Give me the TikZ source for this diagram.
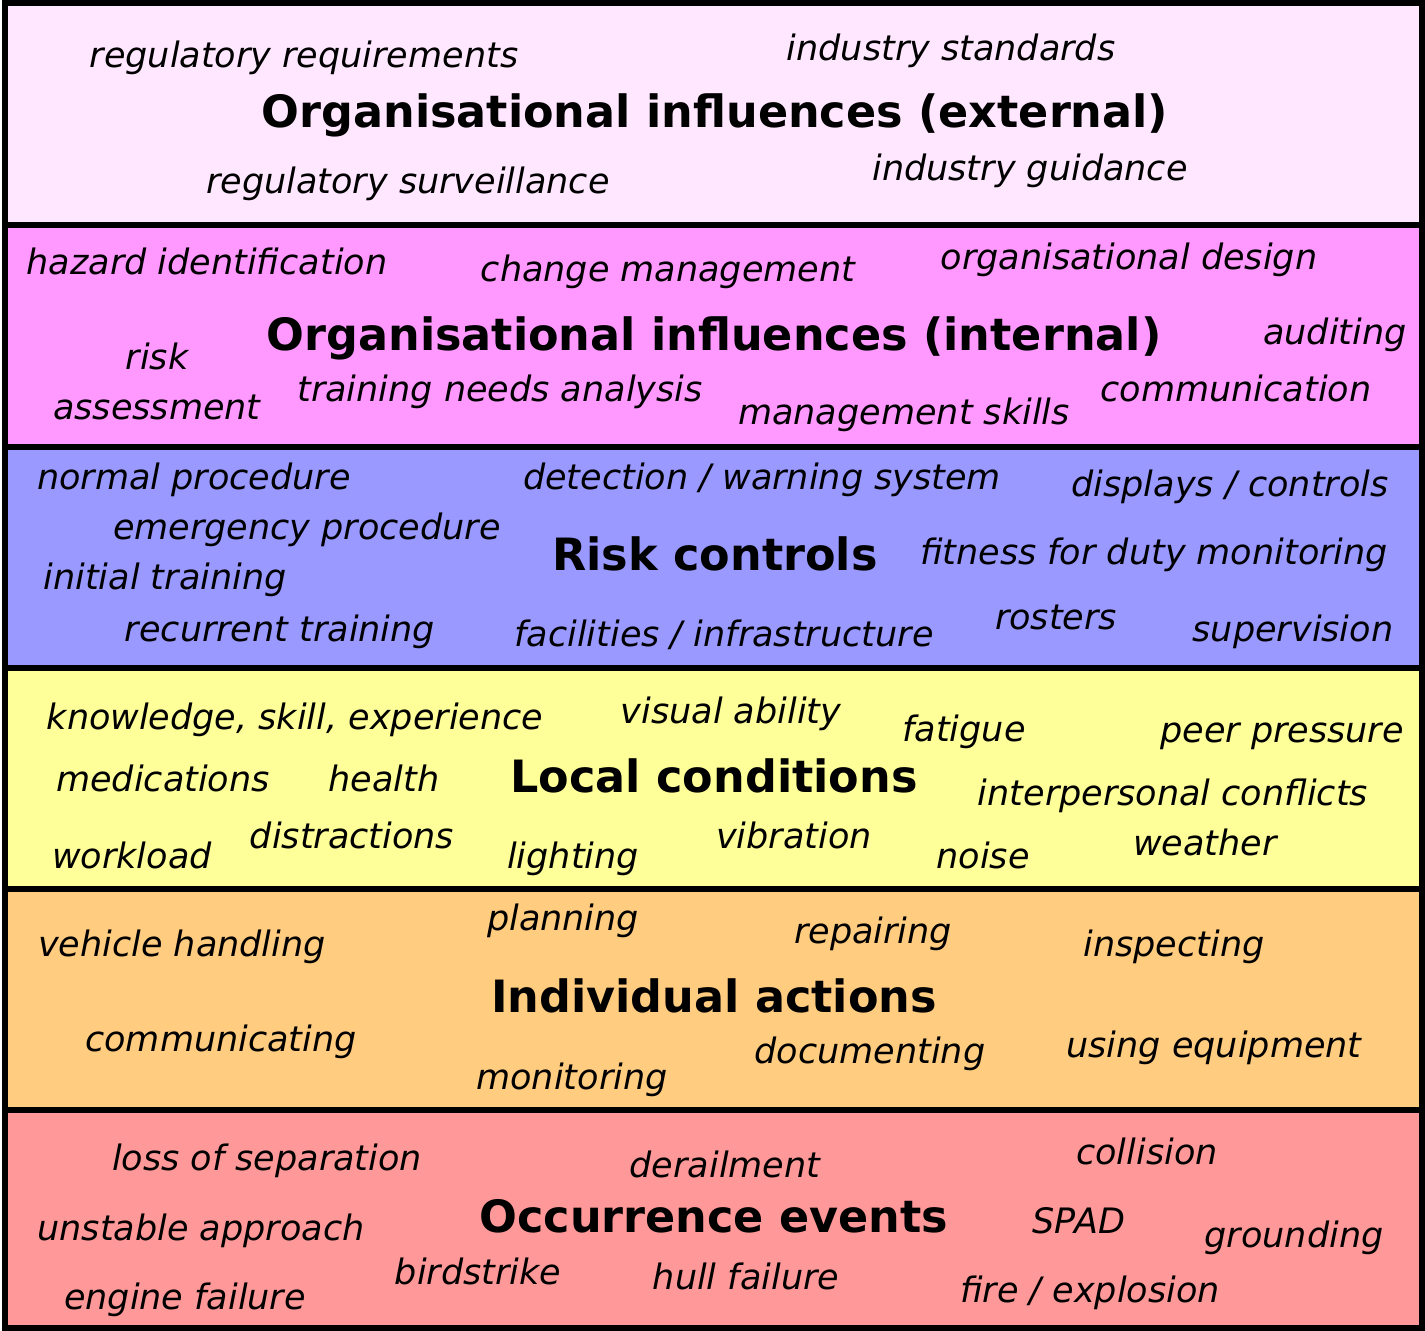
\documentclass[tikz,border=0pt]{standalone}
\usepackage{fontspec}
\setmainfont{DejaVu Sans}
\definecolor{cext}{HTML}{FFE8FF}
\definecolor{cint}{HTML}{FF99FF}
\definecolor{crisk}{HTML}{9999FF}
\definecolor{cloc}{HTML}{FFFF99}
\definecolor{cind}{HTML}{FFCC80}
\definecolor{cocc}{HTML}{FF9999}
\tikzset{
  band/.style={draw=black, line width=6pt},
  it/.style={inner sep=0pt, font=\fontsize{35}{40}\selectfont\itshape, text height=25pt, text depth=8pt, yshift=-4pt},
  ttl/.style={inner sep=0pt, font=\fontsize{44.5}{50}\selectfont\bfseries, text height=33pt, text depth=10pt, yshift=-4pt},
}
\begin{document}
\begin{tikzpicture}[x=1pt,y=-1pt]
\useasboundingbox (0,0) rectangle (1425,1331);
\fill[white] (0,0) rectangle (1425,1331);
\draw[band, fill=cext]  (4.5,3) rectangle (1422,225);
\draw[band, fill=cint]  (4.5,225) rectangle (1422,446.5);
\draw[band, fill=crisk] (4.5,446.5) rectangle (1422,668);
\draw[band, fill=cloc]  (4.5,668) rectangle (1422,888.5);
\draw[band, fill=cind]  (4.5,888.5) rectangle (1422,1110);
\draw[band, fill=cocc]  (4.5,1110) rectangle (1422,1328);
% Band 1
\node[it] (e1) at (304,55) {regulatory requirements};
\node[it] (e2) at (951,48) {industry standards};
\node[ttl] (t1) at (715,112) {Organisational influences (external)};
\node[it] (e3) at (408,181) {regulatory surveillance};
\node[it] (e4) at (1030,168) {industry guidance};
% Band 2
\node[it] (i1) at (207,262) {hazard identification};
\node[it] (i2) at (668,269) {change management};
\node[it] (i3) at (1129,257) {organisational design};
\node[it] (i4) at (157,357) {risk};
\node[it] (i5) at (157,407) {assessment};
\node[ttl] (t2) at (714,335) {Organisational influences (internal)};
\node[it] (i6) at (1335,332) {auditing};
\node[it] (i7) at (500,389) {training needs analysis};
\node[it] (i8) at (1236,389) {communication};
\node[it] (i9) at (904,412) {management skills};
% Band 3
\node[it] (r1) at (194,477) {normal procedure};
\node[it] (r2) at (762,477) {detection / warning system};
\node[it] (r3) at (1230,484) {displays / controls};
\node[it] (r4) at (307,527) {emergency procedure};
\node[ttl] (t3) at (715,555) {Risk controls};
\node[it] (r5) at (1154,552) {fitness for duty monitoring};
\node[it] (r6) at (165,577) {initial training};
\node[it] (r7) at (280,629) {recurrent training};
\node[it] (r8) at (724,634) {facilities / infrastructure};
\node[it] (r9) at (1056,617) {rosters};
\node[it] (r10) at (1293,629) {supervision};
% Band 4
\node[it] (l1) at (295,717) {knowledge, skill, experience};
\node[it] (l2) at (731,711) {visual ability};
\node[it] (l3) at (964,729) {fatigue};
\node[it] (l4) at (1282,730) {peer pressure};
\node[it] (l5) at (163,779) {medications};
\node[it] (l6) at (384,779) {health};
\node[ttl] (t4) at (714,777) {Local conditions};
\node[it] (l7) at (1173,793) {interpersonal conflicts};
\node[it] (l8) at (132,856) {workload};
\node[it] (l9) at (352,836) {distractions};
\node[it] (l10) at (573,856) {lighting};
\node[it] (l11) at (794,836) {vibration};
\node[it] (l12) at (983,856) {noise};
\node[it] (l13) at (1205,843) {weather};
% Band 5
\node[it] (a1) at (182,944) {vehicle handling};
\node[it] (a2) at (563,918) {planning};
\node[it] (a3) at (873,931) {repairing};
\node[it] (a4) at (1174,944) {inspecting};
\node[ttl] (t5) at (714,997) {Individual actions};
\node[it] (a5) at (221,1039) {communicating};
\node[it] (a6) at (870,1051) {documenting};
\node[it] (a7) at (1214,1045) {using equipment};
\node[it] (a8) at (572,1077) {monitoring};
% Band 6
\node[it] (o1) at (267,1158) {loss of separation};
\node[it] (o2) at (725,1165) {derailment};
\node[it] (o3) at (1147,1152) {collision};
\node[it] (o4) at (201,1228) {unstable approach};
\node[ttl] (t6) at (714,1217) {Occurrence events};
\node[it] (o5) at (1079,1221) {SPAD};
\node[it] (o6) at (1294,1235) {grounding};
\node[it] (o7) at (478,1272) {birdstrike};
\node[it] (o8) at (746,1277) {hull failure};
\node[it] (o9) at (185,1297) {engine failure};
\node[it] (o10) at (1090,1290) {fire / explosion};
\end{tikzpicture}
\end{document}
